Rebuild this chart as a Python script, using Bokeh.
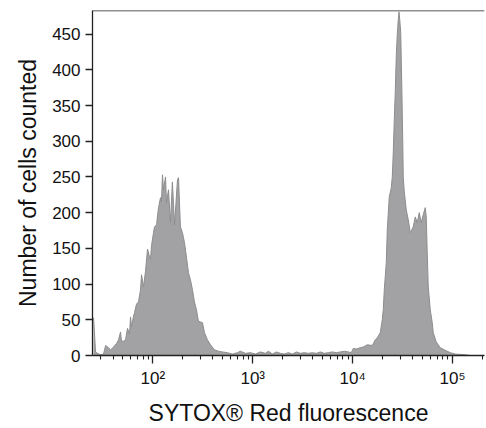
from bokeh.plotting import figure
from bokeh.models import FixedTicker, CustomJSTickFormatter, Span, ColumnDataSource, Range1d
from bokeh.embed import file_html
from bokeh.resources import INLINE

# Fluorescence intensity (bin position) and number of cells counted
fluorescence = [
    25.5, 26.1, 26.7, 28.0, 30.0, 32.1, 33.7, 35.3, 37.8, 40.5, 43.4, 45.4, 47.5, 48.6,
    50.9, 53.3, 55.8, 58.5, 59.8, 61.2, 64.1, 65.6, 68.7, 71.9, 75.3, 77.1, 80.7, 84.5,
    88.5, 92.7, 94.9, 97.1, 101.6, 104, 109, 114, 119.4, 122, 125, 128, 134, 137, 143.5,
    150.3, 157, 165, 176.6, 180.7, 189, 198, 207.5, 217, 227.5, 238, 249.5, 261, 273.5,
    286, 300, 314, 329, 352, 378, 414, 454, 498, 558, 627, 703,
    754, 845, 948, 1064, 1194, 1340, 1435, 1574, 1726, 1892, 2075, 2275, 2495, 2735,
    3000, 3289, 3606, 3954, 4335, 4753, 5212, 5715, 6266, 6871, 7534, 8260, 9057, 9705,
    10160, 10890, 11940, 12790, 14030, 15740, 16870, 17660, 18920, 19810, 20270, 20750,
    21730, 22240, 23280, 24380, 24950, 25530, 26130, 26740, 27360, 28000, 28650, 29100,
    29640, 30320, 31030, 31750, 32120, 32870, 34420, 36050, 37750, 40450, 42360, 44360,
    46450, 48640, 50930, 53330, 54570, 55840, 57150, 59840, 62660, 64120, 68710, 75340,
    82610, 94830, 106400, 134000, 150300,
]
cells = [
    53, 30, 5, 3, 1, 2, 14, 12, 8, 12, 17, 22, 33, 20,
    20, 22, 38, 30, 54, 40, 55, 60, 72, 75, 92, 113, 96, 118,
    149, 138, 135, 154, 172, 180, 183, 207, 221, 215, 253, 232, 250, 214, 232,
    186, 243, 183, 246, 249, 180, 172, 158, 138, 116, 106, 92, 75, 64,
    48, 47, 46, 32, 22, 15, 8, 6, 5, 4, 2, 4,
    6, 3, 4, 2, 5, 3, 6, 2, 5, 3, 2, 4, 2, 5,
    3, 4, 3, 4, 3, 5, 3, 4, 5, 4, 5, 6, 5, 4,
    10, 9, 11, 12, 15, 14, 22, 25, 32, 50, 64, 92,
    130, 176, 222, 235, 250, 285, 330, 370, 420, 450, 470, 481,
    470, 452, 380, 300, 250, 230, 204, 190, 172, 180, 194, 186,
    200, 186, 197, 207, 194, 144, 97, 64, 46, 32, 19, 11,
    8, 4, 2, 1, 0,
]

x_major_ticks = [1e2, 1e3, 1e4, 1e5]
x_minor_ticks = [30, 40, 50, 60, 70, 80, 90,
                 200, 300, 400, 500, 600, 700, 800, 900,
                 2000, 3000, 4000, 5000, 6000, 7000, 8000, 9000,
                 20000, 30000, 40000, 50000, 60000, 70000, 80000, 90000,
                 200000]
y_ticks = [0, 50, 100, 150, 200, 250, 300, 350, 400, 450]

FONT = "Liberation Sans"

p = figure(width=486, height=428, x_axis_type="log",
           x_range=Range1d(24.9, 209000), y_range=Range1d(0, 483),
           output_backend="svg", toolbar_location=None,
           min_border_left=92, min_border_right=2, min_border_top=10, min_border_bottom=72)
p.outline_line_color = None
p.grid.visible = False
p.background_fill_color = "white"
p.border_fill_color = "white"

src = ColumnDataSource(dict(x=fluorescence, y=cells, y0=[0] * len(cells)))
p.varea(x="x", y1="y0", y2="y", source=src, fill_color="#a2a2a4")
p.line(x="x", y="y", source=src, line_color="#8d8d8f", line_width=1)

p.add_layout(Span(location=483, dimension="width", line_color="#222222", line_width=1.3))

xa = p.xaxis[0]
xa.ticker = FixedTicker(ticks=x_major_ticks, minor_ticks=x_minor_ticks)
xa.formatter = CustomJSTickFormatter(code="""
const s = {0:'\u2070',1:'\u00b9',2:'\u00b2',3:'\u00b3',4:'\u2074',5:'\u2075'};
const e = Math.round(Math.log10(tick));
return '10' + s[e];
""")
xa.axis_label = "SYTOX® Red fluorescence"

ya = p.yaxis[0]
ya.ticker = FixedTicker(ticks=y_ticks)
ya.axis_label = "Number of cells counted"

for ax in (xa, ya):
    ax.axis_line_color = "#222222"
    ax.axis_line_width = 1.3
    ax.major_tick_line_color = "#222222"
    ax.major_tick_line_width = 1.3
    ax.minor_tick_line_color = "#222222"
    ax.minor_tick_line_width = 1.1
    ax.major_tick_in = 0
    ax.minor_tick_in = 0
    ax.major_label_text_font = FONT
    ax.major_label_text_font_size = "17px"
    ax.major_label_text_color = "#111111"
    ax.axis_label_text_font = FONT
    ax.axis_label_text_font_size = "23px"
    ax.axis_label_text_font_style = "normal"
    ax.axis_label_text_color = "#111111"

xa.major_tick_out = 8
xa.minor_tick_out = 4
xa.major_label_standoff = 5
xa.axis_label_standoff = 9
ya.major_tick_out = 7
ya.minor_tick_out = 0
ya.major_label_standoff = 5
ya.axis_label_standoff = 8

open("out.html", "w").write(file_html(p, INLINE))
